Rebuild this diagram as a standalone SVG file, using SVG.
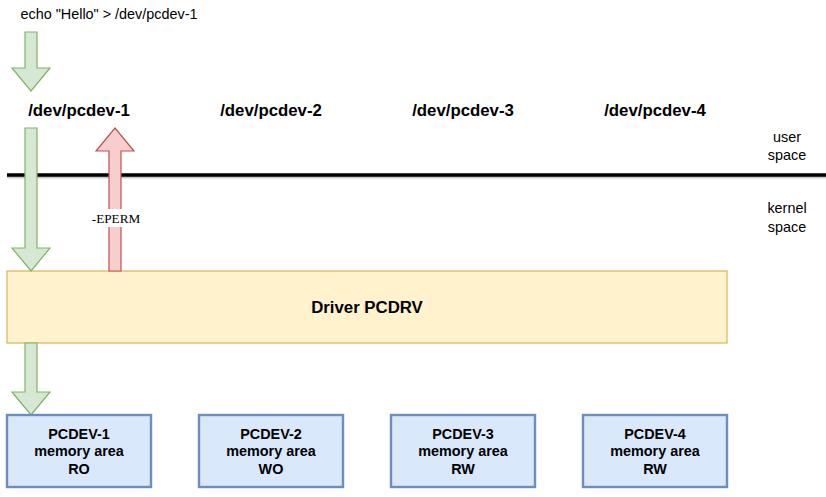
<svg xmlns="http://www.w3.org/2000/svg" width="826" height="497" viewBox="0 0 826 497">
<style>
text{font-family:"Liberation Sans",Arial,sans-serif;fill:#000;text-anchor:middle}
.n{font-size:14.4px}
.b{font-weight:bold}
.dev{font-size:16.8px;font-weight:bold}
.g{fill:#d5e8d4;stroke:#82b366;stroke-width:1.2}
.r{fill:#f8cecc;stroke:#b85450;stroke-width:1.2}
.mem{fill:#dae8fc;stroke:#6c8ebf;stroke-width:2.4}
.drv{fill:#fff2cc;stroke:#d6b656;stroke-width:1.2}
.serif{font-family:"Liberation Serif","Times New Roman",serif;font-size:13.2px}
</style>
<rect width="826" height="497" fill="#fff"/>
<g id="cmd"><text class="n" x="109" y="19">echo "Hello" &gt; /dev/pcdev-1</text></g>
<g id="labels">
<text class="dev" x="79" y="116">/dev/pcdev-1</text>
<text class="dev" x="271" y="116">/dev/pcdev-2</text>
<text class="dev" x="463" y="116">/dev/pcdev-3</text>
<text class="dev" x="655" y="116">/dev/pcdev-4</text>
</g>
<g id="userspace"><text class="n" x="787" y="142">user</text><text class="n" x="787" y="160">space</text></g>
<g id="kernelspace"><text class="n" x="787" y="213">kernel</text><text class="n" x="787" y="232">space</text></g>
<g id="boundary">
<line x1="7" y1="177" x2="826" y2="177" stroke="#c8c8c8" stroke-width="3"/>
<line x1="7" y1="175" x2="826" y2="175" stroke="#000" stroke-width="3.6"/>
</g>
<g id="driver">
<rect class="drv" x="7" y="271" width="720" height="72"/>
<text class="dev" x="367" y="313">Driver PCDRV</text>
</g>
<g id="connectors">
<polygon class="g" points="25,32 37,32 37,68 50,68 31,91 12,68 25,68"/>
<polygon class="g" points="25,128 37,128 37,248 50,248 31,271 12,248 25,248"/>
<polygon class="g" points="25,343 37,343 37,392 50,392 31,415 12,392 25,392"/>
<polygon class="r" points="109,271 121,271 121,151 134,151 115,128 96,151 109,151"/>
<rect x="90" y="209" width="51" height="18" fill="#fff"/>
<text class="serif" x="116" y="222.5">-EPERM</text>
</g>
<g id="pcdev1">
<rect class="mem" x="7" y="415" width="144" height="72"/>
<text class="n b" x="79" y="439">PCDEV-1</text><text class="n b" x="79" y="456">memory area</text><text class="n b" x="79" y="474">RO</text>
</g>
<g id="pcdev2">
<rect class="mem" x="199" y="415" width="144" height="72"/>
<text class="n b" x="271" y="439">PCDEV-2</text><text class="n b" x="271" y="456">memory area</text><text class="n b" x="271" y="474">WO</text>
</g>
<g id="pcdev3">
<rect class="mem" x="391" y="415" width="144" height="72"/>
<text class="n b" x="463" y="439">PCDEV-3</text><text class="n b" x="463" y="456">memory area</text><text class="n b" x="463" y="474">RW</text>
</g>
<g id="pcdev4">
<rect class="mem" x="583" y="415" width="144" height="72"/>
<text class="n b" x="655" y="439">PCDEV-4</text><text class="n b" x="655" y="456">memory area</text><text class="n b" x="655" y="474">RW</text>
</g>
</svg>
